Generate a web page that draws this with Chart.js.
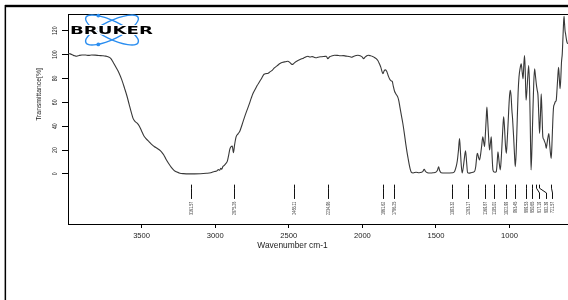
<!DOCTYPE html>
<html>
<head>
<meta charset="utf-8">
<script src="https://cdn.jsdelivr.net/npm/chart.js@4"></script>
<style>
  html, body { margin: 0; padding: 0; background: #fff; overflow: hidden; }
  #wrap { width: 568px; height: 300px; }
</style>
</head>
<body>
<div id="wrap"><canvas id="irChart" width="568" height="300"></canvas></div>
<script>
const WAVENUMBERS = [
  4000, 3985, 3970, 3955, 3940, 3925, 3905, 3880, 3860, 3840, 3815, 3790, 3765, 3745, 3725, 3710,
  3695, 3675, 3655, 3635, 3615, 3600, 3585, 3570, 3558, 3545, 3530, 3515, 3500, 3485, 3470, 3450,
  3430, 3412, 3395, 3380, 3365, 3350, 3335, 3315, 3298, 3280, 3260, 3240, 3215, 3180, 3140, 3100,
  3060, 3030, 3005, 2990, 2978, 2970, 2962, 2955, 2948, 2938, 2928, 2918, 2908, 2900, 2892, 2884,
  2876, 2868, 2858, 2845, 2832, 2818, 2800, 2785, 2770, 2755, 2744, 2730, 2715, 2700, 2685, 2668,
  2655, 2640, 2628, 2615, 2598, 2580, 2560, 2540, 2522, 2506, 2492, 2478, 2465, 2450, 2438, 2420,
  2400, 2385, 2370, 2355, 2340, 2325, 2310, 2295, 2275, 2260, 2245, 2235, 2222, 2205, 2190, 2170,
  2150, 2130, 2110, 2090, 2075, 2058, 2042, 2030, 2015, 2000, 1992, 1982, 1970, 1960, 1945, 1930,
  1918, 1906, 1895, 1885, 1875, 1866, 1860, 1852, 1843, 1835, 1825, 1815, 1805, 1797, 1790, 1782,
  1772, 1760, 1752, 1745, 1735, 1725, 1715, 1705, 1697, 1690, 1682, 1675, 1668, 1655, 1635, 1615,
  1598, 1588, 1580, 1572, 1558, 1540, 1520, 1500, 1490, 1482, 1475, 1465, 1440, 1410, 1385, 1372,
  1363, 1355, 1347, 1340, 1334, 1328, 1322, 1314, 1306, 1299, 1292, 1285, 1275, 1262, 1248, 1238,
  1230, 1222, 1218, 1210, 1204, 1196, 1189, 1182, 1176, 1170, 1164, 1158, 1154, 1149, 1143, 1136,
  1130, 1124, 1119, 1113, 1105, 1097, 1090, 1084, 1079, 1071, 1063, 1057, 1050, 1044, 1040, 1034,
  1028, 1022, 1016, 1009, 1002, 996, 990, 984, 980, 972, 966, 961, 955, 948, 942, 936,
  929, 921, 914, 908, 903, 898, 893, 888, 882, 876, 870, 864, 859, 854, 848, 842,
  836, 830, 824, 818, 812, 807, 801, 796, 790, 785, 780, 774, 768, 762, 756, 751,
  746, 740, 733, 727, 721, 717, 712, 706, 701, 695, 689, 683, 677, 672, 667, 662,
  657, 652, 647, 642, 637, 633, 630, 627, 623, 619, 614, 609, 604
];

const TRANSMITTANCE = [
  101.0, 100.6, 99.8, 99.0, 98.6, 99.2, 99.7, 99.6, 99.3, 99.6, 99.5, 99.2, 99.0, 98.7, 98.0, 96.8,
  94.0, 89.5, 85.0, 79.0, 71.5, 65.5, 58.5, 51.5, 46.5, 44.0, 42.5, 40.0, 36.0, 32.0, 29.5, 27.0,
  24.5, 22.8, 21.5, 20.2, 18.5, 16.0, 12.5, 8.5, 5.5, 3.0, 1.5, 0.6, 0.2, 0.0, 0.0, 0.1,
  0.5, 1.0, 2.0, 2.4, 3.6, 3.0, 4.6, 4.0, 6.1, 7.2, 8.6, 10.5, 16.0, 21.0, 22.8, 23.3,
  17.8, 24.5, 31.0, 33.5, 36.0, 41.0, 47.8, 53.0, 58.0, 63.5, 67.2, 70.5, 74.0, 77.0, 80.0, 83.5,
  84.0, 84.3, 85.5, 86.5, 88.8, 90.5, 92.5, 93.6, 94.0, 94.4, 93.2, 91.7, 92.6, 94.2, 95.0, 96.0,
  97.0, 98.0, 98.6, 97.9, 98.3, 97.6, 97.3, 98.0, 98.2, 98.4, 98.6, 96.6, 98.2, 99.0, 99.4, 99.3,
  99.0, 99.1, 98.7, 98.4, 97.8, 98.6, 99.2, 99.4, 99.0, 97.8, 96.6, 97.8, 99.0, 99.4, 99.0, 98.4,
  97.6, 96.6, 95.0, 92.5, 89.5, 85.5, 84.0, 86.5, 87.2, 86.0, 82.5, 79.5, 78.0, 77.5, 73.5, 69.5,
  67.0, 64.5, 61.0, 56.0, 49.0, 42.2, 34.0, 25.0, 18.5, 13.5, 8.0, 4.0, 1.5, 0.8, 1.4, 1.0,
  1.3, 2.2, 3.9, 2.2, 1.0, 0.7, 0.9, 1.5, 3.0, 6.0, 2.8, 1.0, 0.7, 0.8, 0.9, 2.5,
  6.0, 11.0, 20.0, 29.7, 19.0, 7.0, 0.8, 6.0, 14.0, 19.4, 10.0, 1.0, 0.6, 1.0, 1.4, 2.0,
  6.0, 15.5, 17.2, 13.5, 11.7, 17.0, 24.0, 31.1, 27.0, 22.8, 34.0, 48.0, 56.0, 46.0, 32.0, 20.0,
  26.0, 31.1, 16.0, 3.3, 1.5, 1.4, 2.0, 10.0, 18.6, 10.0, 3.3, 12.0, 28.0, 42.0, 47.8, 38.0,
  24.0, 17.2, 28.0, 45.0, 62.0, 70.0, 66.0, 53.0, 47.0, 30.0, 15.0, 6.1, 18.0, 45.0, 68.0, 81.1,
  88.0, 92.2, 85.0, 79.7, 92.0, 99.2, 84.0, 61.7, 70.0, 82.0, 90.8, 72.0, 38.0, 3.3, 22.0, 50.0,
  75.0, 88.0, 82.0, 75.0, 70.0, 66.0, 48.0, 33.9, 50.0, 67.2, 52.0, 31.1, 29.0, 27.0, 25.0, 21.4,
  25.0, 30.0, 33.9, 24.0, 16.0, 13.0, 25.0, 45.0, 56.0, 58.5, 60.5, 61.7, 72.0, 82.0, 89.4, 80.0,
  71.4, 80.0, 94.0, 100.6, 115.0, 127.0, 132.0, 127.0, 120.0, 117.0, 113.0, 110.0, 109.0
];

const X_TICKS = [1000, 1500, 2000, 2500, 3000, 3500];
const Y_TICKS = [0, 20, 40, 60, 80, 100, 120];

const PEAKS = [
  3161.57, 2875.28, 2465.11, 2234.96, 1861.62, 1786.25, 1393.32, 1283.17, 1169.87,
  1105.01, 1022.99, 963.45, 889.53, 850.65, 817.19, 802.39, 721.57
];
const PEAK_LABELS = PEAKS.map((p) => p.toFixed(2));

const FONT = '"Liberation Sans", Arial, sans-serif';

function rotText(ctx, text, x, y, size, squash, align) {
  ctx.save();
  ctx.translate(x, y);
  ctx.rotate(-Math.PI / 2);
  ctx.scale(squash, 1);
  ctx.font = `${size}px ${FONT}`;
  ctx.textAlign = align;
  ctx.textBaseline = "middle";
  ctx.fillText(text, 0, 0);
  ctx.restore();
}

const decorPlugin = {
  id: "decor",
  afterDraw(chart) {
    const { ctx, chartArea: area, scales } = chart;
    const xs = scales.x;
    const ys = scales.y;
    ctx.save();

    // outer frame: heavy top rule and thin left rule
    ctx.fillStyle = "#000";
    ctx.fillRect(5, 4.8, 563, 2.4);
    ctx.fillRect(4.6, 5, 1.5, 295);

    // top edge of the plot box
    ctx.strokeStyle = "#000";
    ctx.lineWidth = 1;
    ctx.beginPath();
    ctx.moveTo(area.left, area.top + 0.5);
    ctx.lineTo(area.right, area.top + 0.5);
    ctx.stroke();

    // y tick labels, rotated
    ctx.fillStyle = "#222";
    ys.ticks.forEach((t) => {
      rotText(ctx, String(t.value), 55, ys.getPixelForValue(t.value), 7.4, 0.7, "center");
    });

    // axis titles
    rotText(ctx, "Transmittance[%]", 39, 94.5, 6.8, 1, "center");
    ctx.font = `8.4px ${FONT}`;
    ctx.textAlign = "center";
    ctx.textBaseline = "middle";
    ctx.fillText("Wavenumber cm-1", 292.5, 245.5);

    // peak markers
    const pts = PEAKS.map((wn, i) => ({ px: xs.getPixelForValue(wn), label: PEAK_LABELS[i] }))
      .sort((a, b) => a.px - b.px);
    let last = -Infinity;
    pts.forEach((p) => {
      p.lx = Math.max(p.px, last + 6.6);
      last = p.lx;
    });
    const yTop = ys.getPixelForValue(-9);
    const yBend1 = ys.getPixelForValue(-12);
    const yBend2 = ys.getPixelForValue(-16);
    const yBot = ys.getPixelForValue(-21);
    const yText = ys.getPixelForValue(-23.3);
    ctx.strokeStyle = "#111";
    ctx.lineWidth = 1;
    pts.forEach((p) => {
      const a = Math.round(p.px) + 0.5;
      const b = Math.round(p.lx) + 0.5;
      ctx.beginPath();
      ctx.moveTo(a, yTop);
      ctx.lineTo(a, yBend1);
      ctx.lineTo(b, yBend2);
      ctx.lineTo(b, yBot);
      ctx.stroke();
      ctx.fillStyle = "#333";
      rotText(ctx, p.label, b, yText, 4.6, 0.8, "right");
    });

    // Bruker logo
    ctx.strokeStyle = "#2b8ef0";
    ctx.fillStyle = "#2b8ef0";
    ctx.lineWidth = 1.4;
    const cx = 112, cy = 30, rx = 29, ry = 9, th = 0.45;
    [th, -th].forEach((r) => {
      ctx.beginPath();
      ctx.ellipse(cx, cy, rx, ry, r, 0, Math.PI * 2);
      ctx.stroke();
    });
    [[cx - 13.7, cy - 14.4], [cx - 13.7, cy + 14.4]].forEach(([dx, dy]) => {
      ctx.beginPath();
      ctx.arc(dx, dy, 1.9, 0, Math.PI * 2);
      ctx.fill();
    });
    ctx.save();
    ctx.font = `bold 10px "DejaVu Sans", sans-serif`;
    const w = ctx.measureText("BRUKER").width;
    ctx.translate(111.5, 31.2);
    ctx.scale(83 / w, 1);
    ctx.textAlign = "center";
    ctx.textBaseline = "middle";
    ctx.lineWidth = 2.2;
    ctx.strokeStyle = "#fff";
    ctx.strokeText("BRUKER", 0, 0);
    ctx.fillStyle = "#000";
    ctx.fillText("BRUKER", 0, 0);
    ctx.restore();

    ctx.restore();
  }
};

new Chart(document.getElementById("irChart"), {
  type: "line",
  data: {
    datasets: [
      {
        data: WAVENUMBERS.map((wn, i) => ({ x: wn, y: TRANSMITTANCE[i] })),
        borderColor: "#383838",
        borderWidth: 1.1,
        pointRadius: 0,
        fill: false,
        cubicInterpolationMode: "monotone"
      }
    ]
  },
  options: {
    responsive: false,
    animation: false,
    devicePixelRatio: 1,
    layout: { padding: { top: 14, left: 0, right: 0, bottom: 0 } },
    plugins: {
      legend: { display: false },
      tooltip: { enabled: false }
    },
    scales: {
      x: {
        type: "linear",
        reverse: true,
        min: 603,
        max: 4000,
        afterBuildTicks: (axis) => {
          axis.ticks = X_TICKS.map((v) => ({ value: v }));
        },
        afterFit: (axis) => {
          axis.height = 76;
        },
        grid: { drawOnChartArea: false, drawTicks: true, tickLength: 4, color: "#000" },
        border: { color: "#000", width: 1 },
        ticks: {
          color: "#222",
          font: { family: FONT, size: 7.6 },
          padding: 3,
          maxRotation: 0,
          autoSkip: false,
          callback: (value) => String(value)
        }
      },
      y: {
        min: -42,
        max: 134,
        afterBuildTicks: (axis) => {
          axis.ticks = Y_TICKS.map((v) => ({ value: v }));
        },
        afterFit: (axis) => {
          axis.width = 68;
        },
        grid: { drawOnChartArea: false, drawTicks: true, tickLength: 6, color: "#000" },
        border: { color: "#000", width: 1 },
        ticks: { display: false }
      }
    }
  },
  plugins: [decorPlugin]
});
</script>
</body>
</html>
